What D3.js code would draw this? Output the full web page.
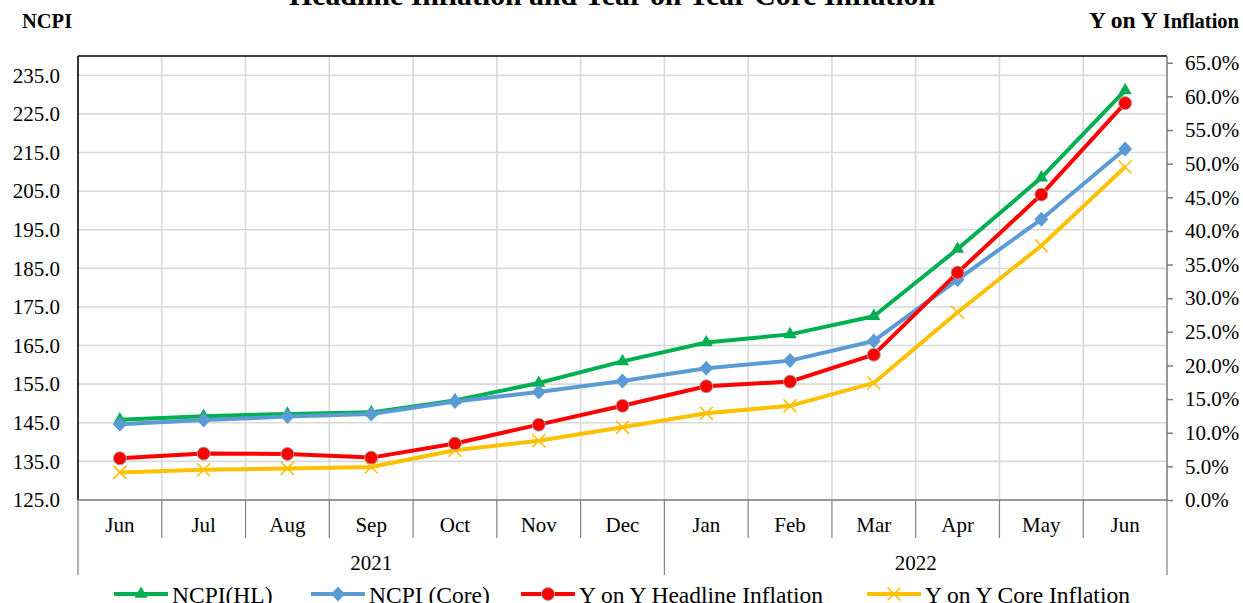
<!DOCTYPE html>
<html>
<head>
<meta charset="utf-8">
<script src="https://cdn.jsdelivr.net/npm/d3@7"></script>
<style>
  html, body { margin: 0; padding: 0; background: #ffffff; }
  svg { display: block; }
  svg text { font-family: "Liberation Serif", "Times New Roman", serif; }
</style>
</head>
<body>
<svg id="chart" width="1243" height="603"></svg>
<script>
// months along the bottom, two year groups
const months = ["Jun", "Jul", "Aug", "Sep", "Oct", "Nov", "Dec", "Jan", "Feb", "Mar", "Apr", "May", "Jun"];
const years = [
    { label: "2021", from: 0, to: 7 },
    { label: "2022", from: 7, to: 13 }
];

// left axis (index values)
const ncpiHL = [145.8, 146.7, 147.3, 147.7, 150.8, 155.3, 160.9, 165.8, 167.9, 172.6, 190.0, 208.5, 231.1];
const ncpiCore = [144.6, 145.7, 146.6, 147.3, 150.5, 153.0, 155.8, 159.1, 161.1, 166.2, 182.1, 197.7, 215.9];

// right axis (year on year, fraction)
const yoyHeadline = [0.062, 0.069, 0.0685, 0.063, 0.084, 0.112, 0.140, 0.169, 0.176, 0.216, 0.338, 0.454, 0.590];
const yoyCore = [0.041, 0.045, 0.047, 0.049, 0.074, 0.088, 0.108, 0.129, 0.140, 0.174, 0.279, 0.378, 0.495];

const leftTicks = d3.range(125, 236, 10);
const rightTicks = d3.range(0, 0.651, 0.05);

const series = [
    { name: "NCPI(HL)", values: ncpiHL, axis: "left", color: "#00B050", marker: "triangle", legendX: 114 },
    { name: "NCPI (Core)", values: ncpiCore, axis: "left", color: "#5B9BD5", marker: "diamond", legendX: 311 },
    { name: "Y on Y Core Inflation", values: yoyCore, axis: "right", color: "#FFC000", marker: "cross", legendX: 867 },
    { name: "Y on Y Headline Inflation", values: yoyHeadline, axis: "right", color: "#FF0000", marker: "circle", legendX: 521 }
];

const svg = d3.select("#chart");
const plot = { left: 78, right: 1167, top: 56, bottom: 500 };

const x = d3.scaleBand()
    .domain(d3.range(months.length))
    .range([plot.left, plot.right]);
const yLeft = d3.scaleLinear().domain([125, 240]).range([plot.bottom, plot.top]);
const yRight = d3.scaleLinear().domain([0, 0.66]).range([plot.bottom, plot.top]);
const cx = i => x(i) + x.bandwidth() / 2;
const boundary = i => plot.left + i * x.bandwidth();

// title and axis titles
svg.append("text")
    .attr("x", 612).attr("y", 5)
    .attr("text-anchor", "middle")
    .attr("font-size", 29.8).attr("font-weight", "bold")
    .text("Headline Inflation and Year on Year Core Inflation");

svg.append("text")
    .attr("x", 22).attr("y", 28)
    .attr("font-size", 20.5).attr("font-weight", "bold")
    .text("NCPI");

const rTitle = svg.append("text")
    .attr("x", 1239).attr("y", 28)
    .attr("text-anchor", "end")
    .attr("font-weight", "bold");
rTitle.append("tspan").attr("font-size", 23.5).text("Y on Y ");
rTitle.append("tspan").attr("font-size", 20.5).text("Inflation");

// gridlines
const grid = svg.append("g").attr("stroke", "#d9d9d9").attr("stroke-width", 1.6);
grid.selectAll("line.h")
    .data(leftTicks)
    .join("line")
    .attr("x1", plot.left).attr("x2", plot.right)
    .attr("y1", d => yLeft(d)).attr("y2", d => yLeft(d));
grid.selectAll("line.v")
    .data(d3.range(1, months.length))
    .join("line")
    .attr("x1", boundary).attr("x2", boundary)
    .attr("y1", plot.top).attr("y2", plot.bottom);

// left axis
const leftAxis = svg.append("g")
    .attr("transform", `translate(${plot.left},0)`)
    .call(d3.axisLeft(yLeft).tickValues(leftTicks).tickFormat(d3.format(".1f")).tickSize(0).tickPadding(18));
leftAxis.select(".domain").remove();
leftAxis.attr("font-family", null);
leftAxis.selectAll("text").attr("font-size", 21).attr("fill", "#000");

// right axis
const rightAxis = svg.append("g")
    .attr("transform", `translate(${plot.right},0)`)
    .call(d3.axisRight(yRight).tickValues(rightTicks).tickFormat(d3.format(".1%")).tickSize(6).tickPadding(12));
rightAxis.select(".domain").remove();
rightAxis.attr("font-family", null);
rightAxis.selectAll("line").attr("stroke", "#808080").attr("stroke-width", 1.5);
rightAxis.selectAll("text").attr("font-size", 21).attr("fill", "#000");

// frame
svg.append("line")
    .attr("x1", plot.left).attr("x2", plot.right)
    .attr("y1", plot.top).attr("y2", plot.top)
    .attr("stroke", "#000").attr("stroke-width", 1.6);
svg.append("line")
    .attr("x1", plot.left).attr("x2", plot.left)
    .attr("y1", plot.top).attr("y2", plot.bottom)
    .attr("stroke", "#000").attr("stroke-width", 1.6);
svg.append("line")
    .attr("x1", plot.right).attr("x2", plot.right)
    .attr("y1", plot.top).attr("y2", plot.bottom)
    .attr("stroke", "#808080").attr("stroke-width", 1.6);
svg.append("line")
    .attr("x1", plot.left).attr("x2", plot.right)
    .attr("y1", plot.bottom).attr("y2", plot.bottom)
    .attr("stroke", "#808080").attr("stroke-width", 1.6);

// category axis: month ticks, year separators
const bottom = svg.append("g");
bottom.selectAll("line.month")
    .data(d3.range(0, months.length + 1))
    .join("line")
    .attr("x1", boundary).attr("x2", boundary)
    .attr("y1", plot.bottom)
    .attr("y2", i => (i === 0 || years.some(y => y.to === i)) ? 575 : 538)
    .attr("stroke", "#808080").attr("stroke-width", 1.2);
bottom.selectAll("text.month")
    .data(months)
    .join("text")
    .attr("x", (d, i) => cx(i)).attr("y", 532)
    .attr("text-anchor", "middle")
    .attr("font-size", 21)
    .text(d => d);
bottom.selectAll("text.year")
    .data(years)
    .join("text")
    .attr("x", d => (boundary(d.from) + boundary(d.to)) / 2).attr("y", 570)
    .attr("text-anchor", "middle")
    .attr("font-size", 21)
    .text(d => d.label);

// markers
function drawMarker(g, type, color, px, py) {
    if (type === "triangle") {
        g.append("path")
            .attr("d", d3.symbol(d3.symbolTriangle, 75)())
            .attr("transform", `translate(${px},${py})`)
            .attr("fill", color);
    } else if (type === "diamond") {
        g.append("path")
            .attr("d", "M0,-7.5L7,0L0,7.5L-7,0Z")
            .attr("transform", `translate(${px},${py})`)
            .attr("fill", color);
    } else if (type === "circle") {
        g.append("circle")
            .attr("cx", px).attr("cy", py).attr("r", 6.5)
            .attr("fill", color)
            .attr("stroke", "#a6a6a6").attr("stroke-width", 1);
    } else {
        g.append("path")
            .attr("d", "M-6.5,-6.5L6.5,6.5M-6.5,6.5L6.5,-6.5")
            .attr("transform", `translate(${px},${py})`)
            .attr("stroke", color).attr("stroke-width", 1.6)
            .attr("fill", "none");
    }
}

const lines = svg.append("g");
series.forEach(s => {
    const yScale = s.axis === "left" ? yLeft : yRight;
    const g = lines.append("g");
    g.append("path")
        .datum(s.values)
        .attr("fill", "none")
        .attr("stroke", s.color)
        .attr("stroke-width", 4)
        .attr("stroke-linejoin", "round")
        .attr("d", d3.line().x((d, i) => cx(i)).y(d => yScale(d)));
    s.values.forEach((v, i) => drawMarker(g, s.marker, s.color, cx(i), yScale(v)));
});

// legend
const legendY = 594;
const legendOrder = ["NCPI(HL)", "NCPI (Core)", "Y on Y Headline Inflation", "Y on Y Core Inflation"];
legendOrder.forEach(name => {
    const s = series.find(d => d.name === name);
    const g = svg.append("g");
    g.append("line")
        .attr("x1", s.legendX).attr("x2", s.legendX + 54)
        .attr("y1", legendY).attr("y2", legendY)
        .attr("stroke", s.color).attr("stroke-width", 4);
    drawMarker(g, s.marker, s.color, s.legendX + 27, legendY);
    g.append("text")
        .attr("x", s.legendX + 58).attr("y", legendY + 9)
        .attr("font-size", 23.5)
        .text(s.name);
});
</script>
</body>
</html>
